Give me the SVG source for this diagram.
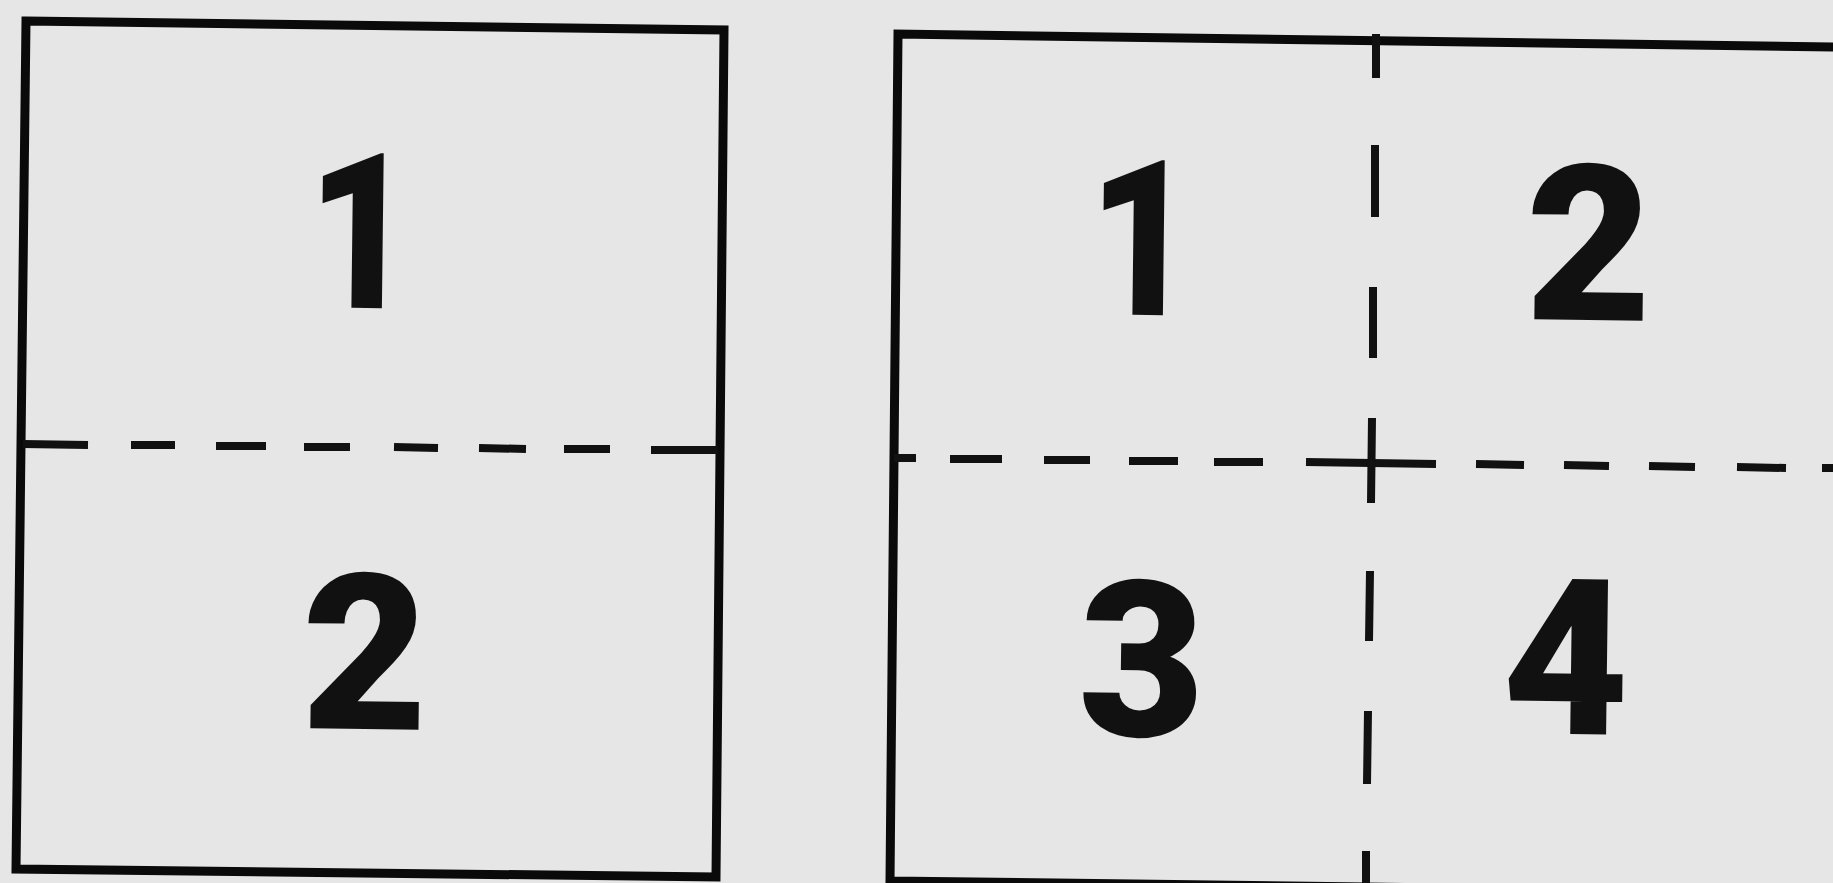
<svg xmlns="http://www.w3.org/2000/svg" width="1833" height="883" viewBox="0 0 1833 883">
<style>
.box{fill:none;stroke:#0a0a0a;stroke-width:9;stroke-linejoin:miter}
.dash{fill:none;stroke:#111;stroke-width:8}
.num{font-family:Roboto,"Liberation Sans",Arial,sans-serif;font-weight:900;font-size:218px;fill:#111;text-anchor:middle}
</style>
<rect x="0" y="0" width="1833" height="883" fill="#e6e6e6"/>
<g id="left-sheet">
<polygon class="box" points="26,21 724,30 716,877 16,869"/>
<text class="num" x="360" y="308" transform="rotate(0.7 360 308) translate(360 0) scale(0.85 1) translate(-360 0)">1</text>
<text class="num" x="364" y="729" transform="rotate(0.7 364 729)">2</text>
</g>
<g id="right-sheet">
<polyline class="box" points="1840,47 898,34 890,881 1840,893"/>
<text class="num" x="1141" y="315" transform="rotate(0.7 1141 315) translate(1141 0) scale(0.85 1) translate(-1141 0)">1</text>
<text class="num" x="1588" y="320" transform="rotate(0.7 1588 320)">2</text>
<text class="num" x="1141" y="736" transform="rotate(0.7 1141 736)">3</text>
<text class="num" x="1565" y="734" transform="rotate(0.7 1565 734)">4</text>
</g>
<g id="connectors">
<path class="dash" d="M23,444 L88,445 M131,445 L175,445 M216,446 L266,446 M304,447 L350,447 M394,447 L438,448 M479,448 L526,449 M564,449 L610,449 M651,450 L718,450"/>
<path class="dash" d="M894,458 L916,458 M950,459 L1002,459 M1044,460 L1090,460 M1129,461 L1178,461 M1214,462 L1263,462 M1306,462 L1436,464 M1476,464 L1524,465 M1564,465 L1609,466 M1649,466 L1695,467 M1737,467 L1786,468 M1822,468 L1840,468"/>
<path class="dash" stroke-width="6" d="M1376,34 L1376,78 M1375,145 L1375,217 M1373,287 L1373,358 M1372,418 L1371,503 M1370,571 L1369,641 M1368,711 L1367,784 M1366,851 L1366,885"/>
</g>
</svg>
